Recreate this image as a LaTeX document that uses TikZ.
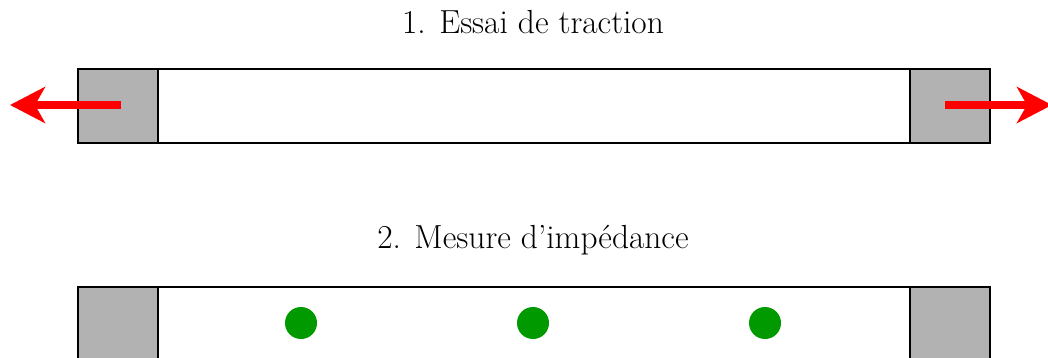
\documentclass[tikz,border=0pt]{standalone}
\usepackage{fontspec}
\usetikzlibrary{arrows.meta}
\begin{document}
\begin{tikzpicture}[x=0.5pt,y=-0.5pt,
  bar/.style={draw=black,line width=1pt,fill=white,minimum width=456pt,minimum height=37pt,inner sep=0pt,anchor=north west},
  clamp/.style={draw=black,line width=1pt,fill=black!30,minimum width=40pt,minimum height=37pt,inner sep=0pt,anchor=north west},
  probe/.style={circle,fill=green!60!black,minimum size=16pt,inner sep=0pt},
  title/.style={font=\fontsize{16.7}{20}\selectfont},
  pull/.style={draw=red,line width=4pt,-{Stealth[length=17.5pt,width=18pt,inset=5pt]}}]
\useasboundingbox (0,0) rectangle (1048,358);
\clip (0,0) rectangle (1048,358);
% test 1
\node[title] (t1) at (533,22) {1. Essai de traction};
\node[bar] (b1) at (77,68) {};
\node[clamp] (l1) at (77,68) {};
\node[clamp] (r1) at (909,68) {};
\coordinate (la) at (121,105);
\coordinate (lt) at (10,105);
\coordinate (ra) at (945,105);
\coordinate (rt) at (1052,105);
\draw[pull] (la) -- (lt);
\draw[pull] (ra) -- (rt);
% test 2
\node[title] (t2) at (533,240) {2. Mesure d’impédance};
\node[bar] (b2) at (77,286) {};
\node[clamp] (l2) at (77,286) {};
\node[clamp] (r2) at (909,286) {};
\node[probe] (p1) at (301,323) {};
\node[probe] (p2) at (533,323) {};
\node[probe] (p3) at (765,323) {};
\end{tikzpicture}
\end{document}
